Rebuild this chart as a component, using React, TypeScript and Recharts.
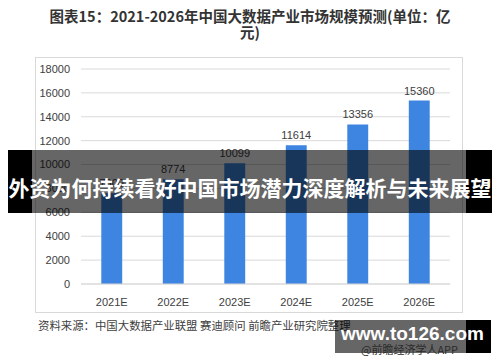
import React from "react";
import { BarChart, Bar, XAxis, YAxis, CartesianGrid, LabelList } from "recharts";

const years = ["2021E", "2022E", "2023E", "2024E", "2025E", "2026E"];
const marketSize = [7600, 8774, 10099, 11614, 13356, 15360];
const yTicks = [0, 2000, 4000, 6000, 8000, 10000, 12000, 14000, 16000, 18000];

const data = years.map((year, i) => ({ year, value: marketSize[i] }));

const cjk = '"Noto Sans CJK SC", "Noto Sans", sans-serif';
const num = '"Liberation Sans", "DejaVu Sans", sans-serif';

export default function App() {
  return (
    <div
      style={{
        position: "absolute",
        left: 0,
        top: 0,
        width: 500,
        height: 362,
        background: "#fff",
        overflow: "hidden",
        fontFamily: cjk,
      }}
    >
      {/* title */}
      <div
        style={{
          position: "absolute",
          left: 0,
          top: 8,
          width: 500,
          textAlign: "center",
          fontSize: 14.5,
          fontWeight: 700,
          lineHeight: "16px",
          color: "#333",
        }}
      >
        图表15：2021-2026年中国大数据产业市场规模预测(单位：亿
        <br />
        元)
      </div>

      {/* chart box */}
      <div
        style={{
          position: "absolute",
          left: 35,
          top: 57,
          width: 428,
          height: 256,
          border: "1px solid #d9d9d9",
          boxSizing: "border-box",
        }}
      >
        <BarChart
          width={426}
          height={254}
          data={data}
          margin={{ top: 11, right: 12, left: 5, bottom: 8 }}
          barCategoryGap="67%"
        >
          <CartesianGrid vertical={false} stroke="#d9d9d9" />
          <XAxis
            dataKey="year"
            tick={{ fontSize: 11, fill: "#404040", fontFamily: num }}
            tickLine={false}
            axisLine={{ stroke: "#d9d9d9" }}
            tickMargin={8}
            height={20}
          />
          <YAxis
            domain={[0, 18000]}
            ticks={yTicks}
            tick={{ fontSize: 11, fill: "#404040", fontFamily: num }}
            tickLine={false}
            axisLine={false}
            tickSize={0}
            tickMargin={11}
            width={40}
            interval={0}
          />
          <Bar dataKey="value" fill="#3d85e0" isAnimationActive={false}>
            <LabelList
              dataKey="value"
              position="top"
              offset={6}
              style={{ fontSize: 11, fill: "#404040", fontFamily: num }}
            />
          </Bar>
        </BarChart>
      </div>

      {/* source */}
      <div
        style={{
          position: "absolute",
          left: 38,
          top: 317,
          fontSize: 11.4,
          color: "#404040",
          whiteSpace: "nowrap",
        }}
      >
        资料来源：中国大数据产业联盟 赛迪顾问 前瞻产业研究院整理
      </div>

      {/* overlay banner */}
      <div
        style={{
          position: "absolute",
          left: 8,
          top: 150,
          width: 484,
          height: 63,
          background: "rgba(0,0,0,0.6)",
        }}
      >
        <div style={{ position: "absolute", left: 0, top: 0, width: 24, height: 63, background: "#000" }} />
        <div style={{ position: "absolute", right: 0, top: 0, width: 26, height: 63, background: "#000" }} />
        <div
          style={{
            position: "absolute",
            left: 0,
            top: 22,
            width: 484,
            textAlign: "center",
            color: "#fff",
            fontWeight: 700,
            fontSize: 21,
            lineHeight: "30px",
            whiteSpace: "nowrap",
          }}
        >
          外资为何持续看好中国市场潜力深度解析与未来展望
        </div>
      </div>

      {/* corner watermark */}
      <div
        style={{
          position: "absolute",
          left: 335,
          top: 320,
          width: 156,
          height: 33,
          background: "rgba(0,0,0,0.6)",
        }}
      >
        <div style={{ position: "absolute", right: 0, top: 0, width: 25, height: 33, background: "#000" }} />
        <div
          style={{
            position: "absolute",
            left: 26,
            top: 21,
            fontSize: 11,
            color: "#2a2a2a",
            whiteSpace: "nowrap",
            fontFamily: cjk,
          }}
        >
          @前瞻经济学人APP
        </div>
        <div
          style={{
            position: "absolute",
            left: 6,
            top: 3,
            color: "#fff",
            fontWeight: 700,
            fontSize: 19,
            lineHeight: "22px",
            fontFamily: num,
            whiteSpace: "nowrap",
          }}
        >
          www.to126.com
        </div>
      </div>
    </div>
  );
}
